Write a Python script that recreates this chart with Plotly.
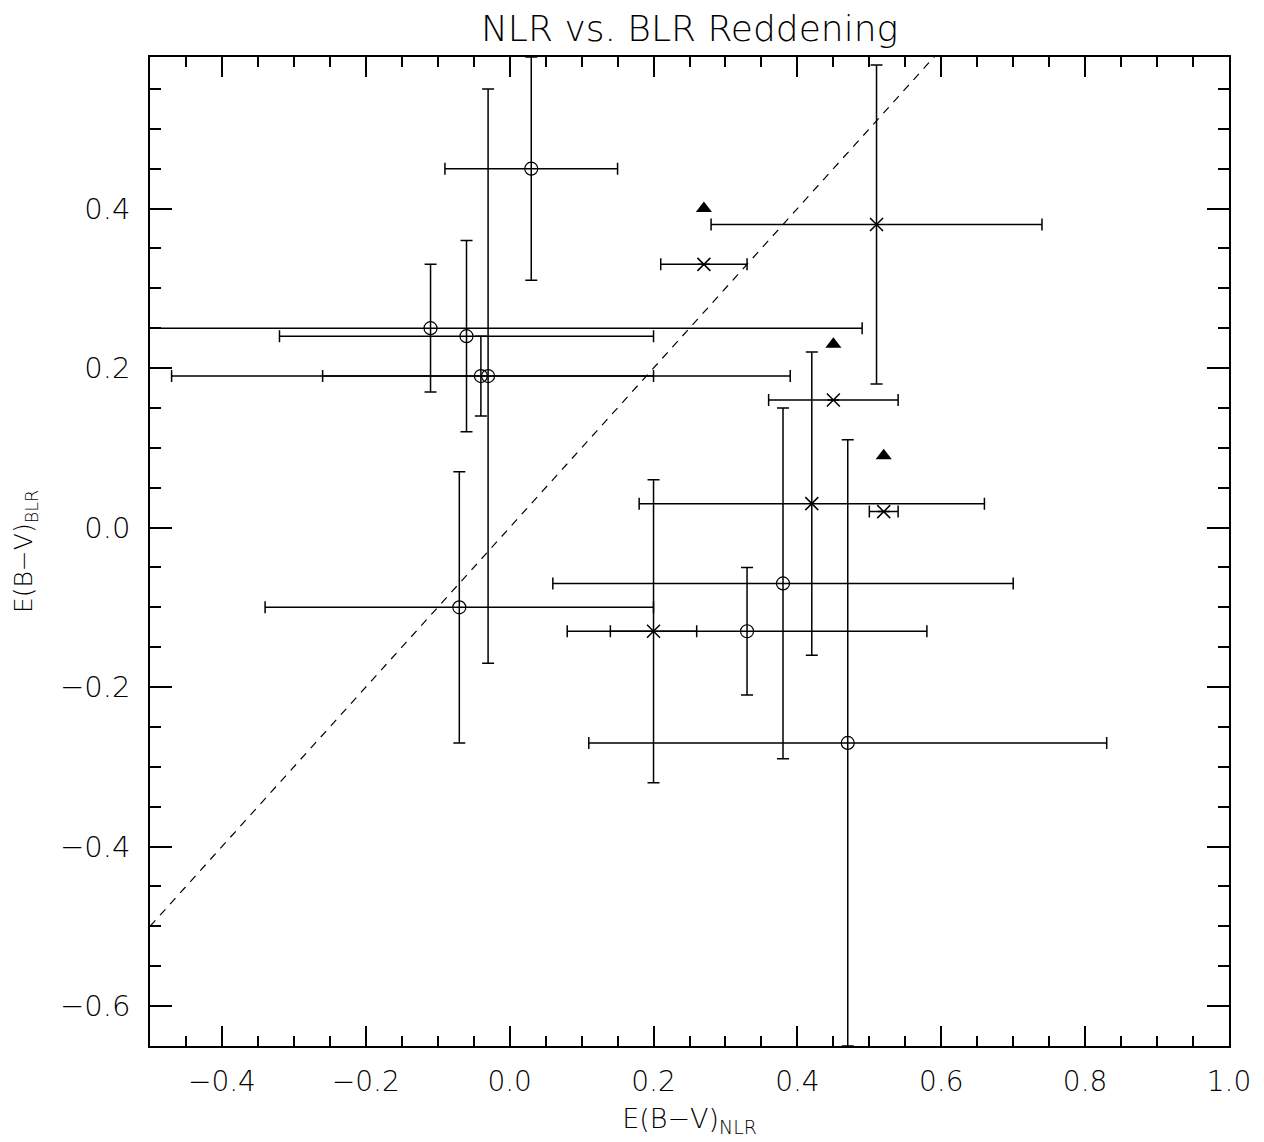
import plotly.graph_objects as go

# Circles (open symbols)
x_circ = [0.03, -0.03, -0.04, -0.11, -0.06, -0.07, 0.33, 0.38, 0.47]
y_circ = [0.45, 0.19, 0.19, 0.25, 0.24, -0.10, -0.13, -0.07, -0.27]
xerr_circ = [0.12, 0.23, 0.43, 0.60, 0.26, 0.27, 0.25, 0.32, 0.36]
yerr_circ = [0.14, 0.36, 0.05, 0.08, 0.12, 0.17, 0.08, 0.22, 0.38]

# Crosses
x_cross = [0.51, 0.27, 0.45, 0.42, 0.52, 0.20]
y_cross = [0.38, 0.33, 0.16, 0.03, 0.02, -0.13]
xerr_cross = [0.23, 0.06, 0.09, 0.24, 0.02, 0.06]
yerr_cross = [0.20, 0.0, 0.0, 0.19, 0.0, 0.19]

# Filled triangles
x_tri = [0.27, 0.45, 0.52]
y_tri = [0.40, 0.23, 0.09]

# one-to-one line
line_x = [-0.5, 1.0]
line_y = [-0.5, 1.0]

x_range = [-0.5, 1.0]
y_range = [-0.65, 0.59]

fig = go.Figure()

fig.add_trace(go.Scatter(
    x=line_x, y=line_y, mode="lines",
    line=dict(color="black", width=1.2, dash="8px,7px"),
    showlegend=False, hoverinfo="skip"))

ebar = dict(type="data", symmetric=True, color="black", thickness=1.5, width=6)

fig.add_trace(go.Scatter(
    x=x_circ, y=y_circ, mode="markers",
    marker=dict(symbol="circle-open", size=13, color="black", line=dict(width=1.2)),
    error_x=dict(array=xerr_circ, **ebar),
    error_y=dict(array=yerr_circ, **ebar),
    showlegend=False))

fig.add_trace(go.Scatter(
    x=x_cross, y=y_cross, mode="markers",
    marker=dict(symbol="x-thin-open", size=13, color="black", line=dict(width=1.5, color="black")),
    error_x=dict(array=xerr_cross, **ebar),
    error_y=dict(array=yerr_cross, **ebar),
    showlegend=False))

fig.add_trace(go.Scatter(
    x=x_tri, y=y_tri, mode="markers",
    marker=dict(symbol="triangle-up", size=14, color="black"),
    showlegend=False))

font_family = "DejaVu Sans ExtraLight, DejaVu Sans Light, DejaVu Sans"
fw = 200

fig.update_layout(
    width=1264, height=1142,
    margin=dict(l=150, r=35, t=57, b=96),
    paper_bgcolor="white", plot_bgcolor="white",
    font=dict(family=font_family, color="black", weight=fw),
    title=dict(text="NLR vs. BLR Reddening", x=0.5455, xanchor="center",
               y=0.975, yanchor="middle", font=dict(size=36, family=font_family, weight=fw, color="black")),
)

fig.update_xaxes(
    range=x_range, tickmode="linear", tick0=-0.4, dtick=0.2, tickformat=".1f",
    showgrid=False, zeroline=False,
    showline=True, linecolor="black", linewidth=1.5, mirror="ticks",
    ticks="inside", ticklen=20, tickwidth=1.5, tickcolor="black",
    minor=dict(dtick=0.05, tick0=0, ticks="inside", ticklen=10, tickwidth=1.5, tickcolor="black", showgrid=False),
    tickfont=dict(size=28, family=font_family, weight=fw, color="black"),
    ticklabelstandoff=10,
    title=dict(text="E(B−V)<sub>NLR</sub>", font=dict(size=27, family=font_family, weight=fw, color="black"), standoff=12),
)

fig.update_yaxes(
    range=y_range, tickmode="linear", tick0=0, dtick=0.2, tickformat=".1f",
    showgrid=False, zeroline=False,
    showline=True, linecolor="black", linewidth=1.5, mirror="ticks",
    ticks="inside", ticklen=22, tickwidth=1.5, tickcolor="black",
    minor=dict(dtick=0.05, tick0=0, ticks="inside", ticklen=11, tickwidth=1.5, tickcolor="black", showgrid=False),
    tickfont=dict(size=29, family=font_family, weight=fw, color="black"),
    ticklabelstandoff=12,
    title=dict(text="E(B−V)<sub>BLR</sub>", font=dict(size=25, family=font_family, weight=fw, color="black"), standoff=20),
)

fig.write_html("out.html")
